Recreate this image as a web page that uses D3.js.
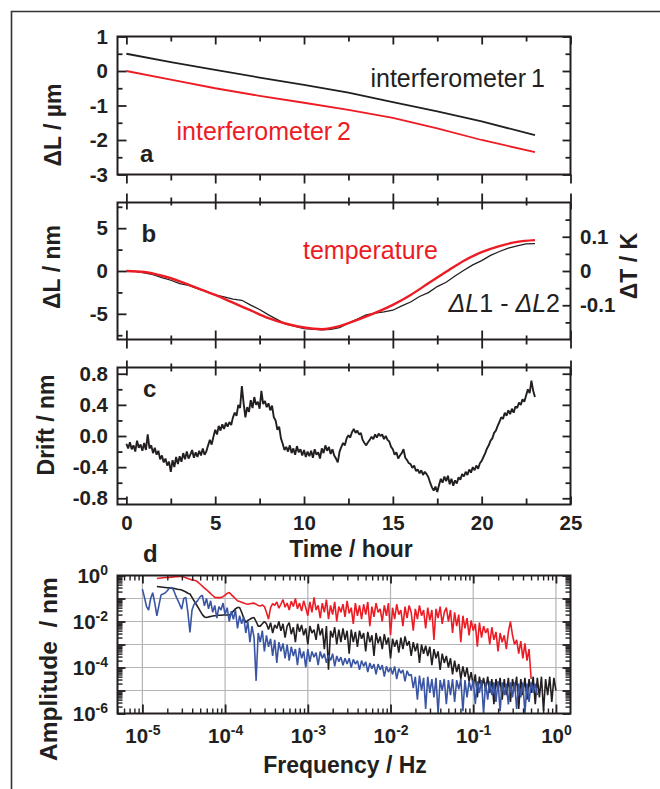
<!DOCTYPE html>
<html>
<head>
<meta charset="utf-8">
<script src="https://cdn.jsdelivr.net/npm/d3@7"></script>
<style>
  body { margin: 0; background: #fff; }
  svg text { font-family: "Liberation Sans", Arial, sans-serif; fill: #231f20; }
</style>
</head>
<body>
<svg id="chart" width="660" height="789"></svg>
<script>
// ---- panel a: length change of both interferometers (um)
const timeA = [0, 2.5, 5, 7.5, 10, 12.5, 15, 17.5, 20, 23];
const interf1 = [0.5, 0.26, 0.03, -0.19, -0.40, -0.63, -0.90, -1.17, -1.46, -1.86];
const interf2 = [0, -0.25, -0.5, -0.72, -0.92, -1.13, -1.36, -1.66, -2.0, -2.35];

// ---- panel b: temperature (K, hourly) and dL1 - dL2 (nm, every 0.5 h)
const tempK = [0, -0.003, -0.0138, -0.030, -0.050, -0.070, -0.0925, -0.115, -0.1375, -0.154, -0.165, -0.170,
  -0.161, -0.1425, -0.1225, -0.099, -0.070, -0.036, -0.0025, 0.030, 0.055, 0.0725, 0.085, 0.090];
const diffStep = 0.5;
const diffNm = [0, -0.05, -0.22, -0.42, -0.78, -1.08, -1.47, -1.68, -2.07, -2.38, -2.8, -3.02, -3.28, -3.42,
  -3.98, -4.5, -5.12, -5.68, -6.22, -6.48, -6.72, -6.78, -6.88, -6.82, -6.62, -6.08, -5.62, -5.12, -4.92,
  -4.78, -4.58, -4.08, -3.62, -2.98, -2.52, -1.82, -1.32, -0.58, 0.08, 0.72, 1.22, 1.82, 2.28, 2.68, 2.94,
  3.16, 3.2];

// ---- panel c: drift (nm), one value every 0.1 h
const driftStep = 0.1;
const drift = [
  -0.10,-0.16,-0.08,-0.17,-0.12,-0.20,-0.06,-0.15,-0.11,-0.19,
  -0.09,-0.18,0.02,-0.16,-0.12,-0.22,-0.15,-0.24,-0.19,-0.30,
  -0.25,-0.34,-0.29,-0.38,-0.33,-0.46,-0.31,-0.40,-0.27,-0.36,
  -0.26,-0.33,-0.22,-0.30,-0.20,-0.29,-0.24,-0.18,-0.28,-0.21,
  -0.27,-0.19,-0.25,-0.16,-0.24,-0.20,-0.12,-0.05,-0.11,-0.01,
  0.08,0.02,0.13,0.07,0.15,0.09,0.17,0.12,0.18,0.14,
  0.24,0.30,0.26,0.40,0.36,0.64,0.42,0.24,0.37,0.31,
  0.46,0.36,0.50,0.40,0.44,0.35,0.58,0.41,0.45,0.37,
  0.42,0.33,0.39,0.24,0.20,0.08,0.12,-0.03,-0.10,-0.18,
  -0.14,-0.20,-0.12,-0.22,-0.16,-0.24,-0.13,-0.21,-0.17,-0.25,
  -0.18,-0.27,-0.20,-0.26,-0.19,-0.28,-0.17,-0.24,-0.21,-0.29,
  -0.16,-0.22,-0.12,-0.19,-0.14,-0.23,-0.17,-0.25,-0.29,-0.34,
  -0.20,-0.14,-0.09,-0.12,-0.03,0.01,-0.02,0.05,0.09,0.04,
  0.07,0.02,0.04,-0.05,-0.09,-0.12,-0.08,-0.05,-0.01,-0.04,
  0.02,-0.02,0.03,0.00,0.02,-0.04,0.00,-0.05,-0.07,-0.14,
  -0.17,-0.24,-0.21,-0.29,-0.25,-0.22,-0.17,-0.28,-0.31,-0.35,
  -0.36,-0.41,-0.38,-0.45,-0.43,-0.48,-0.44,-0.50,-0.46,-0.49,
  -0.53,-0.60,-0.66,-0.70,-0.65,-0.72,-0.63,-0.55,-0.60,-0.52,
  -0.58,-0.51,-0.62,-0.55,-0.64,-0.57,-0.61,-0.53,-0.56,-0.49,
  -0.52,-0.46,-0.50,-0.43,-0.47,-0.40,-0.44,-0.38,-0.42,-0.35,
  -0.32,-0.27,-0.22,-0.16,-0.12,-0.06,-0.03,0.04,0.07,0.13,
  0.18,0.24,0.22,0.30,0.26,0.33,0.28,0.35,0.30,0.38,
  0.36,0.43,0.40,0.47,0.44,0.52,0.60,0.55,0.71,0.58,
  0.50];

// ---- panel d: amplitude spectra, log10(amplitude / nm) on a log10(f) grid
const specStep = 0.025;
const redF0 = -4.825;
const redSpec = [
  -0.13,-0.12,-0.11,-0.10,-0.09,-0.09,-0.08,-0.07,-0.06,-0.05,
  -0.05,-0.04,-0.04,-0.07,-0.10,-0.13,-0.16,-0.19,-0.21,-0.23,
  -0.30,-0.38,-0.46,-0.55,-0.62,-0.70,-0.79,-0.87,-0.95,-0.96,
  -0.96,-0.96,-0.92,-0.85,-0.78,-0.74,-0.83,-0.92,-1.01,-1.10,
  -1.13,-1.16,-1.20,-1.23,-1.25,-1.23,-1.21,-1.20,-1.25,-1.30,
  -1.33,-1.28,-1.35,-1.60,-1.90,-1.40,-1.22,-1.30,-1.15,-1.42,
  -1.25,-1.05,-1.38,-1.20,-1.50,-1.12,-1.35,-1.00,-1.45,-1.20,
  -1.55,-1.10,-1.40,-1.75,-1.15,-1.60,-0.95,-1.50,-1.30,-1.85,
  -1.20,-1.60,-1.05,-1.90,-1.30,-1.70,-1.15,-2.00,-1.35,-1.60,
  -1.25,-1.80,-1.10,-1.65,-1.40,-2.10,-1.20,-1.75,-1.30,-1.90,
  -1.25,-1.70,-1.15,-2.20,-1.35,-1.80,-1.20,-1.60,-1.45,-2.00,
  -1.30,-1.75,-1.20,-2.60,-1.40,-1.90,-1.25,-1.70,-1.50,-2.20,
  -1.35,-1.85,-1.30,-1.60,-2.40,-1.45,-1.90,-1.30,-1.75,-1.50,
  -2.30,-1.40,-1.95,-1.50,-2.80,-1.45,-1.85,-1.35,-2.10,-1.60,
  -1.40,-2.00,-1.50,-2.50,-1.60,-2.20,-1.70,-2.90,-1.75,-2.30,
  -1.85,-2.60,-1.95,-2.40,-2.10,-3.10,-2.05,-2.70,-2.20,-2.50,
  -2.30,-3.00,-2.25,-2.80,-2.45,-3.30,-2.50,-2.90,-2.60,-3.20,
  -2.45,-2.00,-2.60,-3.00,-2.80,-3.40,-2.85,-3.60,-2.95,-3.70,
  -3.20,-4.50];
const blackF0 = -4.825;
const blackSpec = [
  -0.48,-0.49,-0.50,-0.51,-0.52,-0.53,-0.54,-0.55,-0.56,-0.58,
  -0.60,-0.61,-0.63,-0.67,-0.72,-0.77,-0.80,-0.95,-1.10,-1.25,
  -1.40,-1.55,-1.70,-1.80,-1.83,-1.80,-1.78,-1.76,-1.75,-1.74,
  -1.73,-1.73,-1.72,-1.72,-1.72,-1.72,-1.65,-1.55,-1.45,-1.39,
  -1.39,-1.60,-1.85,-2.04,-1.95,-1.90,-1.85,-1.83,-2.00,-2.20,
  -2.20,-2.10,-2.00,-2.10,-2.35,-2.05,-2.50,-2.15,-2.30,-2.00,
  -2.40,-2.10,-2.70,-2.20,-2.05,-2.55,-2.25,-2.90,-2.10,-2.45,
  -2.15,-2.60,-2.30,-3.00,-2.20,-2.50,-2.35,-2.80,-2.10,-2.60,
  -2.30,-3.20,-2.20,-4.10,-2.40,-2.70,-2.25,-3.00,-2.35,-2.90,
  -2.30,-2.80,-2.40,-3.40,-2.35,-2.90,-2.45,-3.10,-2.40,-2.75,
  -2.50,-3.30,-2.45,-2.90,-2.60,-3.50,-2.50,-2.95,-2.65,-3.20,
  -2.55,-3.00,-2.70,-3.60,-2.75,-3.10,-2.80,-3.35,-2.70,-3.20,
  -2.65,-3.05,-2.85,-3.50,-2.90,-3.30,-2.95,-3.80,-3.00,-3.40,
  -3.05,-3.50,-3.10,-3.90,-3.20,-3.60,-3.30,-4.10,-3.40,-3.80,
  -3.50,-4.00,-3.60,-4.30,-3.70,-4.20,-3.85,-4.50,-3.95,-4.40,
  -4.00,-4.60,-4.20,-4.80,-4.30,-5.30,-4.40,-4.90,-4.45,-5.00,
  -4.40,-5.10,-4.50,-5.60,-4.50,-5.00,-4.45,-5.40,-4.50,-5.20,
  -4.45,-5.50,-4.50,-5.00,-4.40,-5.80,-4.50,-5.20,-4.45,-5.40,
  -4.50,-5.10,-4.40,-5.60,-4.45,-5.30,-4.40,-5.90,-4.50,-5.20,
  -4.40,-5.50,-4.45,-5.00];
const blueF0 = -5.0;
const blueSpec = [
  -0.59,-0.95,-1.35,-1.50,-1.00,-0.75,-1.20,-1.75,-1.30,-0.85,
  -0.80,-0.76,-0.66,-0.55,-0.52,-0.62,-0.85,-1.05,-1.25,-1.46,
  -1.00,-0.95,-1.60,-2.48,-1.50,-1.25,-1.17,-1.05,-0.92,-0.86,
  -1.32,-1.00,-1.45,-1.10,-1.60,-1.30,-1.85,-1.35,-1.50,-1.20,
  -1.70,-1.40,-2.00,-1.55,-1.90,-1.50,-2.30,-1.75,-2.10,-1.80,
  -2.50,-2.00,-2.90,-2.20,-2.70,-4.58,-2.50,-2.90,-2.40,-3.30,
  -2.60,-3.10,-2.75,-3.50,-2.80,-3.80,-2.90,-3.30,-2.95,-3.60,
  -3.00,-3.70,-3.10,-3.50,-3.20,-3.90,-3.15,-3.60,-3.30,-4.00,
  -3.20,-3.75,-3.30,-3.55,-3.35,-3.90,-3.30,-3.60,-3.40,-3.80,
  -3.45,-3.70,-3.40,-3.95,-3.50,-3.75,-3.55,-3.90,-3.60,-3.85,
  -3.60,-4.00,-3.65,-3.85,-3.70,-4.10,-3.70,-3.95,-3.75,-4.20,
  -3.80,-4.05,-3.85,-4.30,-3.85,-4.10,-3.90,-4.40,-3.95,-4.20,
  -4.00,-4.30,-3.95,-4.50,-4.05,-4.25,-4.10,-4.60,-4.15,-4.35,
  -4.30,-4.90,-4.40,-5.40,-4.35,-5.00,-4.45,-5.80,-4.40,-5.10,
  -4.50,-5.30,-4.45,-6.00,-4.55,-5.00,-4.50,-5.60,-4.55,-5.20,
  -4.50,-5.50,-4.55,-4.95,-4.50,-5.90,-4.55,-5.30,-4.60,-5.00,
  -4.55,-5.60,-4.60,-5.10,-4.55,-6.00,-4.65,-5.40,-4.60,-5.20,
  -4.65,-5.50,-4.60,-5.90,-4.65,-5.20,-4.70,-5.60,-4.65,-5.30,
  -4.65,-5.80,-4.70,-5.30,-4.65,-6.00,-4.70,-5.50,-4.65,-5.10,
  -4.70,-5.20];

// tick values
const tMajor = [0, 5, 10, 15, 20, 25];
const tMinor = [2.5, 7.5, 12.5, 17.5, 22.5];
const aMajor = [-3, -2, -1, 0, 1], aMinor = [-2.5, -1.5, -0.5, 0.5];
const bMajor = [-5, 0, 5], bMinor = [-7.5, -2.5, 2.5, 7.5];
const kMajor = [-0.1, 0, 0.1], kMinor = [-0.15, -0.05, 0.05, 0.15];
const cMajor = [-0.8, -0.4, 0, 0.4, 0.8], cMinor = [-0.6, -0.2, 0.2, 0.6];
const fDecades = [1e-5, 1e-4, 1e-3, 1e-2, 1e-1, 1];
const aDecades = [1e-6, 1e-5, 1e-4, 1e-3, 1e-2, 1e-1, 1];
const aLabels = [1e-6, 1e-4, 1e-2, 1];

const ink = "#231f20", red = "#ed1c24", blue = "#3a55a4";
const svg = d3.select("#chart");

// outer figure frame (only top and left edges are inside the picture)
svg.append("path").attr("d", "M11.5,789V11.5H660")
  .attr("fill", "none").attr("stroke", "#333").attr("stroke-width", 1.6);

const L = 117.5, R = 570.5;
const xT = d3.scaleLinear().domain([-0.5, 25]).range([L, R]);
const ya = d3.scaleLinear().domain([-3, 1]).range([174.5, 36.5]);
const yb = d3.scaleLinear().domain([-8, 8]).range([339.5, 202.5]);
const yk = d3.scaleLinear().domain([-0.2, 0.2]).range([339.5, 202.5]);
const yc = d3.scaleLinear().domain([-0.88, 0.88]).range([504.5, 367.5]);
const xd = d3.scaleLog().domain([5e-6, 1.5]).range([L, R]);
const yd = d3.scaleLog().domain([1e-6, 1]).range([713.5, 575.5]);

function tickAxis(axisFn, scale, vals, size, tr, w) {
  const g = svg.append("g").attr("transform", tr)
    .call(axisFn(scale).tickValues(vals).tickSize(size).tickSizeOuter(0).tickFormat(""));
  g.select(".domain").remove();
  g.selectAll("line").attr("stroke", ink).attr("stroke-width", w || 1.8);
  return g;
}

function labelAxis(axisFn, scale, vals, fmt, pad, tr) {
  const g = svg.append("g").attr("transform", tr)
    .call(axisFn(scale).tickValues(vals).tickSize(0).tickPadding(pad).tickFormat(fmt));
  g.select(".domain").remove();
  g.selectAll("text").attr("font-size", 20.5).attr("font-weight", "bold");
  return g;
}

function frame(y0, y1) {
  svg.append("rect").attr("x", L).attr("y", y0).attr("width", R - L).attr("height", y1 - y0)
    .attr("fill", "none").attr("stroke", ink).attr("stroke-width", 2);
}

function clip(id, y0, y1) {
  svg.append("clipPath").attr("id", id).append("rect")
    .attr("x", L).attr("y", y0).attr("width", R - L).attr("height", y1 - y0);
  return "url(#" + id + ")";
}

function yTicks(scale, major, minor) {
  tickAxis(d3.axisLeft, scale, major, -9, `translate(${L},0)`);
  tickAxis(d3.axisLeft, scale, minor, -5, `translate(${L},0)`);
}
function yTicksRight(scale, major, minor) {
  tickAxis(d3.axisRight, scale, major, -8, `translate(${R},0)`);
  tickAxis(d3.axisRight, scale, minor, -5, `translate(${R},0)`);
}

function title(txt, x, y, rot, size) {
  return svg.append("text").attr("transform", `translate(${x},${y}) rotate(${rot})`)
    .attr("text-anchor", "middle").attr("font-size", size || 23).attr("font-weight", "bold").text(txt);
}

function panelLetter(txt, x, y) {
  svg.append("text").attr("x", x).attr("y", y).attr("font-size", 24).attr("font-weight", "bold").text(txt);
}

// ================= panel a
{
  const cp = clip("clipA", 36.5, 174.5);
  const line = d3.line().x((d, i) => xT(timeA[i])).y(d => ya(d));
  svg.append("path").datum(interf1).attr("d", line).attr("clip-path", cp)
    .attr("fill", "none").attr("stroke", ink).attr("stroke-width", 1.8);
  svg.append("path").datum(interf2).attr("d", line).attr("clip-path", cp)
    .attr("fill", "none").attr("stroke", red).attr("stroke-width", 1.8);

  frame(36.5, 174.5);
  tickAxis(d3.axisTop, xT, tMajor, -8, "translate(0,36.5)");
  tickAxis(d3.axisTop, xT, tMinor, -5, "translate(0,36.5)");
  tickAxis(d3.axisBottom, xT, tMajor, 9, "translate(0,174.5)");
  tickAxis(d3.axisBottom, xT, tMinor, 6, "translate(0,174.5)");
  yTicks(ya, aMajor, aMinor);
  yTicksRight(ya, aMajor, aMinor);
  labelAxis(d3.axisLeft, ya, aMajor, d => String(d), 9.5, `translate(${L},0)`);

  svg.append("text").attr("x", 545).attr("y", 87).attr("text-anchor", "end")
    .attr("font-size", 25).text("interferometer\u20091");
  svg.append("text").attr("x", 176.5).attr("y", 140).attr("font-size", 25)
    .style("fill", red).text("interferometer\u20092");
  panelLetter("a", 140, 161.5);
  title("\u0394L / \u00b5m", 61, 125, -90);
}

// ================= panel b
{
  const cp = clip("clipB", 202.5, 339.5);
  svg.append("path").datum(diffNm)
    .attr("d", d3.line().x((d, i) => xT(i * diffStep)).y(d => yb(d)))
    .attr("clip-path", cp).attr("fill", "none").attr("stroke", ink).attr("stroke-width", 1.3);
  svg.append("path").datum(tempK)
    .attr("d", d3.line().curve(d3.curveMonotoneX).x((d, i) => xT(i)).y(d => yk(d)))
    .attr("clip-path", cp).attr("fill", "none").attr("stroke", red).attr("stroke-width", 2.4);

  frame(202.5, 339.5);
  tickAxis(d3.axisTop, xT, tMajor, 9, "translate(0,202.5)");
  tickAxis(d3.axisTop, xT, tMajor, -7, "translate(0,202.5)");
  tickAxis(d3.axisTop, xT, tMinor, 5, "translate(0,202.5)");
  tickAxis(d3.axisTop, xT, tMinor, -3, "translate(0,202.5)");
  tickAxis(d3.axisBottom, xT, tMajor, -9, "translate(0,339.5)");
  tickAxis(d3.axisBottom, xT, tMajor, 9, "translate(0,339.5)");
  tickAxis(d3.axisBottom, xT, tMinor, -4, "translate(0,339.5)");
  tickAxis(d3.axisBottom, xT, tMinor, 5, "translate(0,339.5)");
  yTicks(yb, bMajor, bMinor);
  yTicksRight(yk, kMajor, kMinor);
  labelAxis(d3.axisLeft, yb, bMajor, d => String(d), 9.5, `translate(${L},0)`);
  labelAxis(d3.axisRight, yk, kMajor, d => String(d), 9.5, `translate(${R},0)`);

  svg.append("text").attr("x", 303).attr("y", 258.5).attr("font-size", 25)
    .style("fill", red).text("temperature");
  const dl = svg.append("text").attr("x", 560).attr("y", 311.5).attr("text-anchor", "end").attr("font-size", 25);
  dl.append("tspan").attr("font-style", "italic").text("\u0394L");
  dl.append("tspan").text("1 - ");
  dl.append("tspan").attr("font-style", "italic").text("\u0394L");
  dl.append("tspan").text("2");
  panelLetter("b", 141.5, 241.5);
  title("\u0394L / nm", 60, 267, -90);
  title("\u0394T / K", 636.5, 266, -90);
}

// ================= panel c
{
  const cp = clip("clipC", 367.5, 504.5);
  svg.append("path").datum(drift)
    .attr("d", d3.line().x((d, i) => xT(i * driftStep)).y(d => yc(d)))
    .attr("clip-path", cp).attr("fill", "none").attr("stroke", ink).attr("stroke-width", 1.9)
    .attr("stroke-linejoin", "bevel");

  frame(367.5, 504.5);
  tickAxis(d3.axisTop, xT, tMajor, 7, "translate(0,367.5)");
  tickAxis(d3.axisTop, xT, tMajor, -8, "translate(0,367.5)");
  tickAxis(d3.axisTop, xT, tMinor, 4, "translate(0,367.5)");
  tickAxis(d3.axisTop, xT, tMinor, -4, "translate(0,367.5)");
  tickAxis(d3.axisBottom, xT, tMajor, -8, "translate(0,504.5)");
  tickAxis(d3.axisBottom, xT, tMinor, -6, "translate(0,504.5)");
  yTicks(yc, cMajor, cMinor);
  yTicksRight(yc, cMajor, cMinor);
  labelAxis(d3.axisLeft, yc, cMajor, d => d.toFixed(1), 9.5, `translate(${L},0)`);
  labelAxis(d3.axisBottom, xT, tMajor, d => String(d), 11, "translate(0,504.5)");

  panelLetter("c", 143, 396.5);
  title("Drift / nm", 54, 425, -90);
  svg.append("text").attr("x", 351).attr("y", 557).attr("text-anchor", "middle")
    .attr("font-size", 23).attr("font-weight", "bold").text("Time / hour");
}

// ================= panel d
{
  const cp = clip("clipD", 575.5, 713.5);
  const grid = svg.append("g").attr("stroke", "#b4b4b4").attr("stroke-width", 1.2);
  grid.selectAll("line.v").data(fDecades).join("line").attr("class", "v")
    .attr("x1", d => xd(d)).attr("x2", d => xd(d)).attr("y1", 575.5).attr("y2", 713.5);
  grid.selectAll("line.h").data(aDecades.slice(1, -1)).join("line").attr("class", "h")
    .attr("x1", L).attr("x2", R).attr("y1", d => yd(d)).attr("y2", d => yd(d));

  const spec = f0 => d3.line()
    .x((d, i) => xd(Math.pow(10, f0 + i * specStep)))
    .y(d => yd(Math.pow(10, d)));
  [[blackSpec, blackF0, ink], [redSpec, redF0, red], [blueSpec, blueF0, blue]].forEach(([vals, f0, col]) => {
    svg.append("path").datum(vals).attr("d", spec(f0)).attr("clip-path", cp)
      .attr("fill", "none").attr("stroke", col).attr("stroke-width", 1.6).attr("stroke-linejoin", "bevel");
  });

  frame(575.5, 713.5);
  const fMinor = xd.ticks().filter(d => !fDecades.some(m => Math.abs(d / m - 1) < 1e-6));
  const aMinorLog = yd.ticks().filter(d => !aDecades.some(m => Math.abs(d / m - 1) < 1e-6));
  tickAxis(d3.axisTop, xd, fDecades, -8, "translate(0,575.5)");
  tickAxis(d3.axisTop, xd, fMinor, -5, "translate(0,575.5)", 1.4);
  tickAxis(d3.axisBottom, xd, fDecades, -9, "translate(0,713.5)");
  tickAxis(d3.axisBottom, xd, fMinor, -5, "translate(0,713.5)", 1.4);
  tickAxis(d3.axisLeft, yd, aDecades, -8, `translate(${L},0)`);
  tickAxis(d3.axisLeft, yd, aMinorLog, -5, `translate(${L},0)`, 1.4);
  tickAxis(d3.axisRight, yd, aDecades, -8, `translate(${R},0)`);
  tickAxis(d3.axisRight, yd, aMinorLog, -5, `translate(${R},0)`, 1.4);

  const pow = t => {
    const e = Math.round(Math.log10(t.datum()));
    t.text("");
    t.append("tspan").text("10");
    t.append("tspan").attr("dy", "-0.55em").attr("font-size", 14).text(String(e));
  };
  labelAxis(d3.axisBottom, xd, fDecades, () => "", 15, "translate(0,713.5)")
    .selectAll("text").each(function () { pow(d3.select(this)); });
  labelAxis(d3.axisLeft, yd, aLabels, () => "", 9.5, `translate(${L},0)`)
    .selectAll("text").each(function () { pow(d3.select(this)); });

  panelLetter("d", 143, 561.5);
  title("Amplitude\u00a0\u00a0/ nm", 57, 669, -90, 24.5);
  svg.append("text").attr("x", 345).attr("y", 773).attr("text-anchor", "middle")
    .attr("font-size", 23).attr("font-weight", "bold").text("Frequency / Hz");
}
</script>
</body>
</html>
